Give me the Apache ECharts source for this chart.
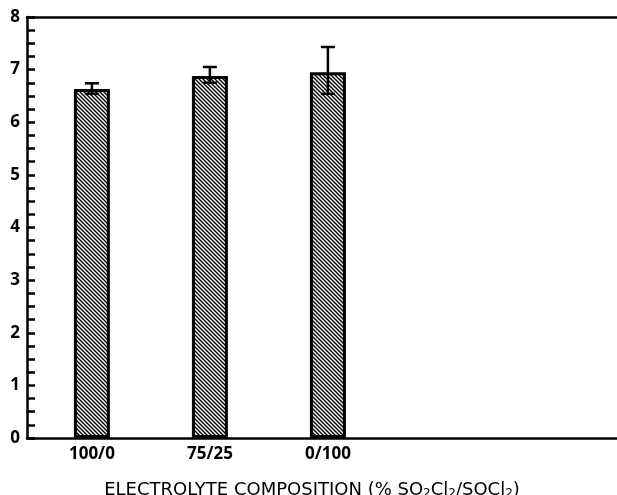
<!DOCTYPE html>
<html>
<head>
<meta charset="utf-8">
<script src="https://cdn.jsdelivr.net/npm/echarts@6/dist/echarts.min.js"></script>
<style>
  html, body { margin: 0; padding: 0; background: #fff; }
  #main { width: 617px; height: 495px; }
</style>
</head>
<body>
<div id="main"></div>
<script>
var categories = ['100/0', '75/25', '0/100'];
var positions = [0, 1, 2];
var values = [6.63, 6.88, 6.95];
var errLow = [6.54, 6.75, 6.54];
var errHigh = [6.74, 7.05, 7.43];
var yTicks = [0, 1, 2, 3, 4, 5, 6, 7, 8];

// diagonal hatch fill for the bars
var hatch = document.createElement('canvas');
hatch.width = 4;
hatch.height = 4;
var hc = hatch.getContext('2d');
hc.fillStyle = '#fff';
hc.fillRect(0, 0, 4, 4);
hc.strokeStyle = '#000';
hc.lineWidth = 1.4;
hc.beginPath();
hc.moveTo(-1, -1); hc.lineTo(5, 5);
hc.moveTo(-1, 3); hc.lineTo(1, 5);
hc.moveTo(3, -1); hc.lineTo(5, 1);
hc.stroke();

var myChart = echarts.init(document.getElementById('main'));

var barData = positions.map(function (p, i) { return [p, values[i]]; });
var errData = positions.map(function (p, i) { return [p, errLow[i], errHigh[i]]; });

var option = {
    animation: false,
    grid: {
        left: 27,
        right: 0,
        top: 17,
        bottom: 57,
        outerBoundsMode: 'none'
    },
    xAxis: [{
            type: 'value',
            min: -0.55,
            max: 4.45,
            splitLine: { show: false },
            axisTick: { show: false },
            axisLine: {
                show: true,
                onZero: false,
                lineStyle: { color: '#000', width: 2.5 }
            },
            axisLabel: {
                customValues: positions,
                formatter: function (v) {
                    return categories[Math.round(v)];
                },
                color: '#000',
                fontFamily: 'Open Sans',
                fontWeight: 'bold',
                fontSize: 17,
                margin: 8
            },
            name: '{t|ELECTROLYTE COMPOSITION (% SO}{s|2}{t|Cl}{s|2}{t|/SOCl}{s|2}{t|)}',
            nameLocation: 'middle',
            nameGap: 42,
            nameTextStyle: {
                padding: [0, 20, 0, 0],
                rich: {
                    t: {
                        fontFamily: 'DejaVu Sans',
                        fontSize: 18,
                        color: '#000',
                        lineHeight: 20
                    },
                    s: {
                        fontFamily: 'DejaVu Sans',
                        fontSize: 12,
                        color: '#000',
                        verticalAlign: 'bottom',
                        padding: [8, 0, 0, 0]
                    }
                }
            }
        },
        {
            type: 'value',
            position: 'top',
            min: -0.55,
            max: 4.45,
            splitLine: { show: false },
            axisTick: { show: false },
            axisLabel: { show: false },
            axisLine: {
                show: true,
                onZero: false,
                lineStyle: { color: '#000', width: 2.5 }
            }
        }
    ],
    yAxis: {
        type: 'value',
        min: yTicks[0],
        max: yTicks[yTicks.length - 1],
        interval: 1,
        splitLine: { show: false },
        axisLine: {
            show: true,
            onZero: false,
            lineStyle: { color: '#000', width: 2.5 }
        },
        axisTick: {
            show: true,
            inside: true,
            length: 8,
            lineStyle: { color: '#000', width: 2.5 }
        },
        minorTick: {
            show: true,
            splitNumber: 4,
            length: 8,
            lineStyle: { color: '#000', width: 2.5 }
        },
        axisLabel: {
            color: '#000',
            fontFamily: 'Open Sans',
            fontWeight: 'bold',
            fontSize: 17,
            margin: 7
        }
    },
    series: [{
            type: 'bar',
            data: barData,
            barWidth: 36,
            itemStyle: {
                color: { image: hatch, repeat: 'repeat' },
                borderColor: '#000',
                borderWidth: 3
            }
        },
        {
            type: 'custom',
            data: errData,
            z: 5,
            renderItem: function (params, api) {
                var x = api.value(0);
                var lo = api.coord([x, api.value(1)]);
                var hi = api.coord([x, api.value(2)]);
                var cap = 7;
                var style = { stroke: '#000', lineWidth: 2.5 };
                return {
                    type: 'group',
                    children: [
                        { type: 'line', shape: { x1: hi[0], y1: hi[1], x2: lo[0], y2: lo[1] }, style: style },
                        { type: 'line', shape: { x1: hi[0] - cap, y1: hi[1], x2: hi[0] + cap, y2: hi[1] }, style: style },
                        { type: 'line', shape: { x1: lo[0] - cap, y1: lo[1], x2: lo[0] + cap, y2: lo[1] }, style: style }
                    ]
                };
            }
        }
    ]
};

myChart.setOption(option);
</script>
</body>
</html>
